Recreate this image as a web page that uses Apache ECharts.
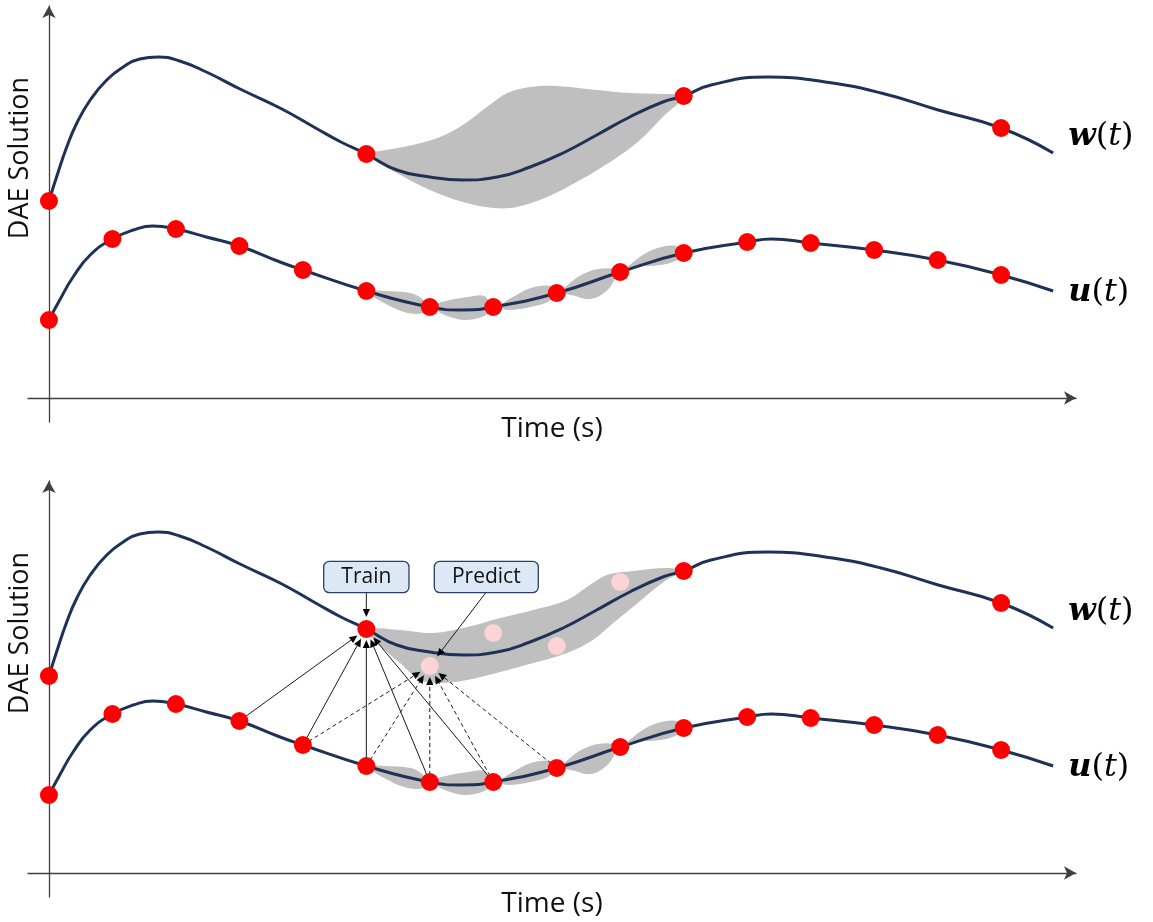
<!DOCTYPE html>
<html><head><meta charset="utf-8">
<script src="https://cdn.jsdelivr.net/npm/echarts@6/dist/echarts.min.js"></script>
<style>html,body{margin:0;padding:0;background:#fff}#c{width:1153px;height:922px}</style>
</head><body><div id="c"></div>
<script>
// ---- curve w(t) ----
const wCurveT = [0,0.12,0.28,0.44,0.65,0.91,1.17,1.43,1.72,2.06,2.48,3.01,3.64,4.2,4.6,5,5.48,6,6.52,7.06,7.58,8.1,8.63,9.15,9.67,10,10.43,11.33,12.23,13.11,14.01,15,15.82];
const wCurveV = [1.97,2.21,2.51,2.75,2.98,3.18,3.31,3.39,3.41,3.37,3.26,3.09,2.90,2.70,2.56,2.44,2.28,2.21,2.18,2.21,2.31,2.45,2.63,2.81,2.96,3.02,3.13,3.21,3.16,3.05,2.88,2.70,2.45];
// ---- curve u(t) ----
const uCurveT = [0,0.17,0.38,0.65,1,1.33,1.64,2,2.48,3,3.64,4,5,6,6.5,7,8,9,10,11,11.38,12,13,14,15,15.82];
const uCurveV = [0.78,0.98,1.21,1.43,1.59,1.68,1.72,1.69,1.61,1.52,1.36,1.28,1.07,0.91,0.88,0.91,1.05,1.26,1.45,1.56,1.59,1.55,1.48,1.38,1.23,1.07];
// ---- sample points ----
const wDotT = [0,5,10,15];
const wDotV = [1.97,2.44,3.02,2.70];
const uDotT = [0,1,2,3,4,5,6,7,8,9,10,11,12,13,14,15];
const uDotV = [0.78,1.59,1.69,1.52,1.28,1.07,0.91,0.91,1.05,1.26,1.45,1.56,1.55,1.48,1.38,1.23];
const predT = [6,7,8,9];
const predV = [2.07,2.40,2.27,2.91];
// ---- uncertainty bands (top panel w, both panels u, bottom panel w) ----
const wBandUpper = [[5,2.44],[5.22,2.47],[5.73,2.53],[6.16,2.61],[6.52,2.73],[6.9,2.91],[7.22,3.05],[7.58,3.11],[8,3.12],[8.63,3.08],[9.15,3.05],[9.67,3.04],[10,3.02]];
const wBandLower = [[5.48,2.25],[6,2.08],[6.52,1.96],[7,1.90],[7.37,1.91],[7.85,2.01],[8.37,2.18],[8.89,2.38],[9.31,2.58],[9.67,2.81]];
const uBandUpper = [[5,1.07],[5.28,1.07],[5.7,1.05],[5.86,1.00],[6,0.91],[6.18,0.96],[6.6,1.01],[6.86,1.02],[7,0.91],[7.28,1.00],[7.59,1.10],[7.91,1.12],[8,1.05],[8.33,1.21],[8.64,1.29],[8.96,1.29],[9,1.26],[9.33,1.42],[9.59,1.50],[9.88,1.52],[10,1.45]];
const uBandLower = [[5.34,0.93],[5.65,0.85],[5.91,0.85],[6,0.91],[6.23,0.83],[6.54,0.78],[6.86,0.82],[7,0.91],[7.23,0.88],[7.59,0.91],[7.86,0.96],[8,1.05],[8.22,1.03],[8.54,0.99],[8.8,1.08],[9,1.26],[9.22,1.31],[9.64,1.33],[9.9,1.38]];
const wPredUpper = [[5,2.44],[5.1,2.45],[5.53,2.43],[6.05,2.40],[6.59,2.46],[7.11,2.55],[7.63,2.63],[8.16,2.73],[8.52,2.88],[8.79,2.98],[9.2,3.02],[9.73,3.05],[10,3.02]];
const wPredLower = [[5.17,2.30],[5.53,2.10],[5.85,1.93],[6.16,1.90],[6.59,1.93],[7.11,2.01],[7.63,2.10],[8.16,2.20],[8.57,2.33],[8.89,2.50],[9.2,2.66],[9.52,2.83],[9.78,2.95]];
// ---- dependency arrows (indices into uDot) ----
const trainSrc = [3,4,5,6,7];
const predictSrc = [4,5,6,7,8];
// ---- annotation boxes ----
const boxText = ['Train','Predict'];
const boxT = [5, 6.89];
const boxV = [2.96, 2.96];
const boxTargetT = [5, 6];
const boxTargetV = [wDotV[1], predV[0]];

const NAVY = '#1f3256';
const zip = (a,b)=>a.map((x,i)=>[x,b[i]]);

function bandSeries(gi, upper, lower){
  const pts = upper.concat(lower.slice().reverse());
  return {type:'custom', xAxisIndex:gi, yAxisIndex:gi, z:1, silent:true,
    data:[upper[0]],
    renderItem:(p,api)=>({type:'polygon', shape:{points:pts.map(q=>api.coord(q)), smooth:0.35}, style:{fill:'#bfbfbf'}})};
}
function arrowEls(p1,p2,gap,dashed){
  const dx=p2[0]-p1[0], dy=p2[1]-p1[1], L=Math.hypot(dx,dy), ux=dx/L, uy=dy/L;
  const tip=[p2[0]-ux*gap, p2[1]-uy*gap];
  const hl=8, hw=3.6;
  const base=[tip[0]-ux*hl, tip[1]-uy*hl];
  return [
    {type:'line', shape:{x1:p1[0],y1:p1[1],x2:base[0],y2:base[1]}, style:{stroke:'#1a1a1a', lineWidth:1, lineDash: dashed?[4,3]:null}},
    {type:'polygon', shape:{points:[tip,[base[0]-uy*hw, base[1]+ux*hw],[base[0]+uy*hw, base[1]-ux*hw]]}, style:{fill:'#000'}}
  ];
}
function curveSeries(gi, t, v, lab, off){
  return {type:'line', xAxisIndex:gi, yAxisIndex:gi, z:2, smooth:0.5, symbol:'none', silent:true,
    data:zip(t,v), lineStyle:{color:NAVY, width:3},
    endLabel:{show:true, distance:15, offset:off, formatter:'{a|'+lab+'}{p|(}{t|t}{p|)}',
      rich:{a:{fontFamily:'DejaVu Serif', fontWeight:'bold', fontStyle:'italic', fontSize:32, color:'#000'},
            p:{fontFamily:'DejaVu Serif', fontSize:32, color:'#000'},
            t:{fontFamily:'DejaVu Serif', fontStyle:'italic', fontSize:32, color:'#000'}}}};
}
function dotSeries(gi, t, v, color){
  return {type:'scatter', xAxisIndex:gi, yAxisIndex:gi, z:6, symbolSize:18, silent:true,
    itemStyle:{color:color, opacity:1}, data:zip(t,v)};
}
function xAx(gi){
  return {type:'value', gridIndex:gi, min:-0.33, max:16.18, splitLine:{show:false}, axisTick:{show:false}, axisLabel:{show:false},
    axisLine:{show:true, onZero:true, symbol:['none','arrow'], symbolSize:[10,12], lineStyle:{color:'#404040', width:1.3}},
    name:'Time (s)', nameLocation:'middle', nameGap:-8, nameMoveOverlap:false,
    nameTextStyle:{fontFamily:'Open Sans', fontSize:28, color:'#111', lineHeight:30}};
}
function yAx(gi){
  return {type:'value', gridIndex:gi, min:-0.24, max:3.92, splitLine:{show:false}, axisTick:{show:false}, axisLabel:{show:false},
    axisLine:{show:true, onZero:true, symbol:['none','arrow'], symbolSize:[10,12], lineStyle:{color:'#404040', width:1.3}}};
}

const arrowData = trainSrc.map(i=>[uDotT[i], uDotV[i], wDotT[1], wDotV[1], 0])
  .concat(predictSrc.map(i=>[uDotT[i], uDotV[i], predT[0], predV[0], 1]));

const option = {
  animation:false,
  backgroundColor:'#fff',
  grid:[{left:28, top:6, width:1048, height:416}, {left:28, top:481, width:1048, height:416}],
  xAxis:[xAx(0), xAx(1)],
  yAxis:[yAx(0), yAx(1)],
  graphic:[
    {type:'text', x:20, y:158, rotation:Math.PI/2, style:{text:'DAE Solution', font:'27px "Open Sans"', fill:'#111', align:'center', verticalAlign:'middle'}},
    {type:'text', x:20, y:633, rotation:Math.PI/2, style:{text:'DAE Solution', font:'27px "Open Sans"', fill:'#111', align:'center', verticalAlign:'middle'}}
  ],
  series:[
    bandSeries(0, wBandUpper, wBandLower),
    bandSeries(0, uBandUpper, uBandLower),
    bandSeries(1, wPredUpper, wPredLower),
    bandSeries(1, uBandUpper, uBandLower),
    curveSeries(0, wCurveT, wCurveV, 'w', [0,-16]),
    curveSeries(0, uCurveT, uCurveV, 'u', [0,2]),
    curveSeries(1, wCurveT, wCurveV, 'w', [0,-16]),
    curveSeries(1, uCurveT, uCurveV, 'u', [0,2]),
    {type:'custom', xAxisIndex:1, yAxisIndex:1, z:4, silent:true, data:arrowData,
      encode:{x:[0,2], y:[1,3]},
      renderItem:(p,api)=>{
        const a=api.coord([api.value(0),api.value(1)]), b=api.coord([api.value(2),api.value(3)]);
        return {type:'group', children:arrowEls(a,b,11,api.value(4)===1)};
      }},
    dotSeries(0, wDotT, wDotV, '#ff0000'),
    dotSeries(0, uDotT, uDotV, '#ff0000'),
    dotSeries(1, wDotT, wDotV, '#ff0000'),
    dotSeries(1, uDotT, uDotV, '#ff0000'),
    dotSeries(1, predT, predV, '#fcd4d4'),
    {type:'custom', xAxisIndex:1, yAxisIndex:1, z:7, silent:true,
      data:boxT.map((t,i)=>[t, boxV[i], boxTargetT[i], boxTargetV[i]]),
      renderItem:(p,api)=>{
        const c=api.coord([api.value(0),api.value(1)]), tg=api.coord([api.value(2),api.value(3)]);
        const start=[c[0], c[1]+15];
        return {type:'group', children:arrowEls(start,tg,12,false).concat([
          {type:'text', x:c[0], y:c[1], style:{text:boxText[p.dataIndex], font:'21px "Open Sans"', fill:'#111',
            align:'center', verticalAlign:'middle', lineHeight:25, padding:[3,17,2,17],
            backgroundColor:'#dce8f5', borderColor:'#2c3f63', borderWidth:1.3, borderRadius:5}}
        ])};
      }}
  ]
};
echarts.init(document.getElementById('c')).setOption(option);
</script></body></html>
